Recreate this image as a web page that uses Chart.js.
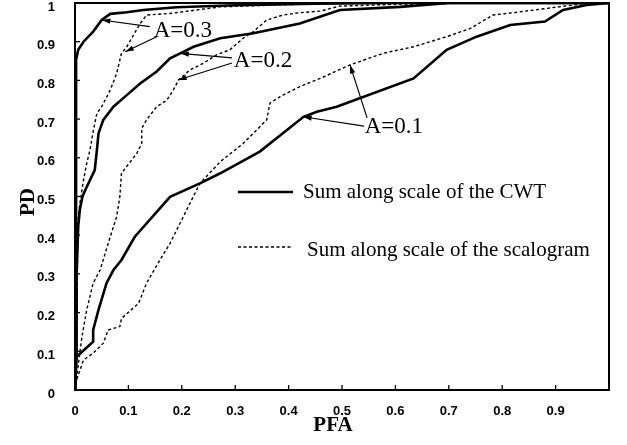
<!DOCTYPE html>
<html lang="en">
<head>
    <meta charset="UTF-8">
    <title>ROC curves</title>
    <script src="https://cdn.jsdelivr.net/npm/chart.js"></script>
    <style>
        body { margin: 0; background: #fff; }
        #wrap { width: 627px; height: 445px; }
    </style>
</head>
<body>
    <div id="wrap"><canvas id="roc" width="627" height="445"></canvas></div>

    <script>
        // PFA / PD points
        const cwtA03X = [0, 0.001, 0.002, 0.002, 0.006, 0.016, 0.034, 0.050, 0.066, 0.097, 0.128, 0.19, 0.3, 0.45, 0.6, 1];
        const cwtA03Y = [0, 0.1, 0.5, 0.853, 0.879, 0.900, 0.926, 0.956, 0.972, 0.976, 0.982, 0.989, 0.994, 0.998, 1, 1];

        const cwtA02X = [0, 0.002, 0.003, 0.006, 0.009, 0.014, 0.022, 0.037, 0.041, 0.044, 0.053, 0.072, 0.097, 0.122, 0.153, 0.178, 0.197, 0.222, 0.272, 0.334, 0.421, 0.496, 0.609, 0.7, 1];
        const cwtA02Y = [0, 0.08, 0.3, 0.422, 0.465, 0.500, 0.525, 0.568, 0.620, 0.663, 0.698, 0.732, 0.762, 0.792, 0.823, 0.857, 0.870, 0.887, 0.909, 0.922, 0.947, 0.982, 0.99, 1, 1];

        const cwtA01X = [0, 0.003, 0.034, 0.034, 0.044, 0.059, 0.072, 0.087, 0.112, 0.178, 0.234, 0.272, 0.346, 0.428, 0.453, 0.49, 0.634, 0.696, 0.752, 0.815, 0.880, 0.914, 0.958, 1];
        const cwtA01Y = [0, 0.086, 0.125, 0.155, 0.207, 0.276, 0.310, 0.336, 0.396, 0.499, 0.534, 0.560, 0.616, 0.706, 0.719, 0.732, 0.805, 0.879, 0.913, 0.943, 0.952, 0.982, 0.995, 1];

        const scalA03X = [0, 0.002, 0.004, 0.005, 0.006, 0.011, 0.016, 0.022, 0.028, 0.034, 0.041, 0.050, 0.066, 0.078, 0.087, 0.097, 0.122, 0.134, 0.178, 0.272, 0.4, 0.5, 1];
        const scalA03Y = [0, 0.05, 0.2, 0.4, 0.448, 0.500, 0.543, 0.586, 0.620, 0.668, 0.715, 0.732, 0.775, 0.818, 0.870, 0.887, 0.947, 0.969, 0.973, 0.990, 0.996, 1, 1];

        const scalA02X = [0, 0.009, 0.013, 0.022, 0.034, 0.047, 0.066, 0.078, 0.084, 0.087, 0.116, 0.125, 0.125, 0.134, 0.153, 0.172, 0.184, 0.194, 0.215, 0.240, 0.265, 0.290, 0.315, 0.334, 0.359, 0.39, 0.421, 0.459, 0.496, 0.61, 0.75, 1];
        const scalA02Y = [0, 0.095, 0.138, 0.207, 0.276, 0.310, 0.396, 0.448, 0.500, 0.560, 0.612, 0.637, 0.676, 0.698, 0.732, 0.749, 0.775, 0.801, 0.827, 0.844, 0.866, 0.879, 0.909, 0.926, 0.956, 0.969, 0.975, 0.979, 0.992, 0.997, 1, 1];

        const scalA01X = [0, 0.003, 0.016, 0.034, 0.053, 0.062, 0.084, 0.087, 0.119, 0.134, 0.159, 0.178, 0.209, 0.234, 0.272, 0.315, 0.359, 0.365, 0.384, 0.421, 0.459, 0.515, 0.577, 0.634, 0.696, 0.740, 0.783, 0.821, 0.883, 0.946, 1];
        const scalA01Y = [0, 0.026, 0.078, 0.095, 0.121, 0.155, 0.164, 0.185, 0.224, 0.276, 0.336, 0.379, 0.465, 0.534, 0.59, 0.637, 0.698, 0.741, 0.758, 0.784, 0.805, 0.840, 0.870, 0.887, 0.913, 0.934, 0.969, 0.975, 0.986, 0.997, 1];

        const xTickLabels = ["0", "0.1", "0.2", "0.3", "0.4", "0.5", "0.6", "0.7", "0.8", "0.9", ""];
        const yTickLabels = ["0", "0.1", "0.2", "0.3", "0.4", "0.5", "0.6", "0.7", "0.8", "0.9", "1"];

        const legendLabels = ["Sum along scale of the CWT", "Sum along scale of the scalogram"];

        // annotation text position and arrows [fromX, fromY, toX, toY] in data units
        const notes = [
            { text: "A=0.3", x: 0.202, y: 0.928, arrows: [[0.140, 0.939, 0.050, 0.956], [0.153, 0.913, 0.094, 0.874]] },
            { text: "A=0.2", x: 0.352, y: 0.850, arrows: [[0.294, 0.858, 0.197, 0.870], [0.294, 0.845, 0.193, 0.801]] },
            { text: "A=0.1", x: 0.597, y: 0.680, arrows: [[0.541, 0.682, 0.427, 0.706], [0.547, 0.703, 0.515, 0.840]] }
        ];

        function toPoints(xs, ys) {
            return xs.map((x, i) => ({ x: x, y: ys[i] }));
        }

        function curve(xs, ys, dotted) {
            return {
                data: toPoints(xs, ys),
                showLine: true,
                borderColor: "#000",
                borderWidth: dotted ? 1.4 : 2.6,
                borderDash: dotted ? [3, 2.5] : [],
                pointRadius: 0,
                tension: 0,
                fill: false
            };
        }

        function fixBox(s, w, h) {
            if (w) s.width = w;
            if (h) s.height = h;
            s.paddingTop = 0; s.paddingBottom = 0;
            s.paddingLeft = 0; s.paddingRight = 0;
        }

        // draws box, inside ticks, notes, legend and axis titles
        const extras = {
            id: "extras",
            afterDatasetsDraw(chart) {
                const ctx = chart.ctx;
                const a = chart.chartArea;
                const xs = chart.scales.x, ys = chart.scales.y;
                ctx.save();
                ctx.strokeStyle = "#000";
                ctx.fillStyle = "#000";

                ctx.lineWidth = 2;
                ctx.strokeRect(a.left, a.top, a.right - a.left, a.bottom - a.top);

                ctx.lineWidth = 1.3;
                for (let i = 1; i < 10; i++) {
                    const px = xs.getPixelForValue(i / 10);
                    ctx.beginPath(); ctx.moveTo(px, a.bottom); ctx.lineTo(px, a.bottom - 5); ctx.stroke();
                    const py = ys.getPixelForValue(i / 10);
                    ctx.beginPath(); ctx.moveTo(a.left, py); ctx.lineTo(a.left + 5, py); ctx.stroke();
                }

                // notes with arrows
                ctx.font = "23px 'Liberation Serif'";
                ctx.textAlign = "center";
                ctx.textBaseline = "middle";
                notes.forEach(n => {
                    ctx.fillText(n.text, xs.getPixelForValue(n.x), ys.getPixelForValue(n.y));
                    n.arrows.forEach(ar => {
                        const x1 = xs.getPixelForValue(ar[0]), y1 = ys.getPixelForValue(ar[1]);
                        const x2 = xs.getPixelForValue(ar[2]), y2 = ys.getPixelForValue(ar[3]);
                        ctx.lineWidth = 1.2;
                        ctx.beginPath(); ctx.moveTo(x1, y1); ctx.lineTo(x2, y2); ctx.stroke();
                        const ang = Math.atan2(y2 - y1, x2 - x1);
                        ctx.beginPath();
                        ctx.moveTo(x2, y2);
                        ctx.lineTo(x2 - 9 * Math.cos(ang - 0.3), y2 - 9 * Math.sin(ang - 0.3));
                        ctx.lineTo(x2 - 9 * Math.cos(ang + 0.3), y2 - 9 * Math.sin(ang + 0.3));
                        ctx.closePath();
                        ctx.fill();
                    });
                });

                // legend
                ctx.textAlign = "left";
                ctx.font = "21px 'Liberation Serif'";
                ctx.lineWidth = 2.6;
                ctx.beginPath(); ctx.moveTo(238, 192); ctx.lineTo(293, 192); ctx.stroke();
                ctx.fillText(legendLabels[0], 303, 192);
                ctx.lineWidth = 1.4;
                ctx.setLineDash([3, 2.5]);
                ctx.beginPath(); ctx.moveTo(238, 247); ctx.lineTo(291, 247); ctx.stroke();
                ctx.setLineDash([]);
                ctx.fillText(legendLabels[1], 307, 250);

                // axis titles
                ctx.font = "bold 21px 'Liberation Serif'";
                ctx.textAlign = "center";
                ctx.fillText("PFA", 333, 426);
                ctx.translate(29, 202);
                ctx.rotate(-Math.PI / 2);
                ctx.fillText("PD", 0, 0);
                ctx.restore();
            }
        };

        new Chart(document.getElementById("roc").getContext("2d"), {
            type: "scatter",
            data: {
                datasets: [
                    curve(cwtA03X, cwtA03Y, false),
                    curve(cwtA02X, cwtA02Y, false),
                    curve(cwtA01X, cwtA01Y, false),
                    curve(scalA03X, scalA03Y, true),
                    curve(scalA02X, scalA02Y, true),
                    curve(scalA01X, scalA01Y, true)
                ]
            },
            options: {
                responsive: false,
                animation: false,
                layout: { padding: { top: 3, right: 18, left: 0, bottom: 0 } },
                plugins: { legend: { display: false }, tooltip: { enabled: false } },
                scales: {
                    x: {
                        type: "linear", min: 0, max: 1,
                        afterFit: s => fixBox(s, 0, 55),
                        grid: { display: false },
                        border: { display: false },
                        ticks: {
                            stepSize: 0.1, padding: 6, color: "#000", maxRotation: 0,
                            font: { family: "'Liberation Sans'", size: 13, weight: "bold" },
                            callback: (v, i) => xTickLabels[i]
                        }
                    },
                    y: {
                        type: "linear", min: 0, max: 1,
                        afterFit: s => fixBox(s, 75, 0),
                        grid: { display: false },
                        border: { display: false },
                        ticks: {
                            stepSize: 0.1, padding: 12, color: "#000", labelOffset: 4,
                            font: { family: "'Liberation Sans'", size: 13, weight: "bold" },
                            callback: (v, i) => yTickLabels[i]
                        }
                    }
                }
            },
            plugins: [extras]
        });
    </script>
</body>
</html>
